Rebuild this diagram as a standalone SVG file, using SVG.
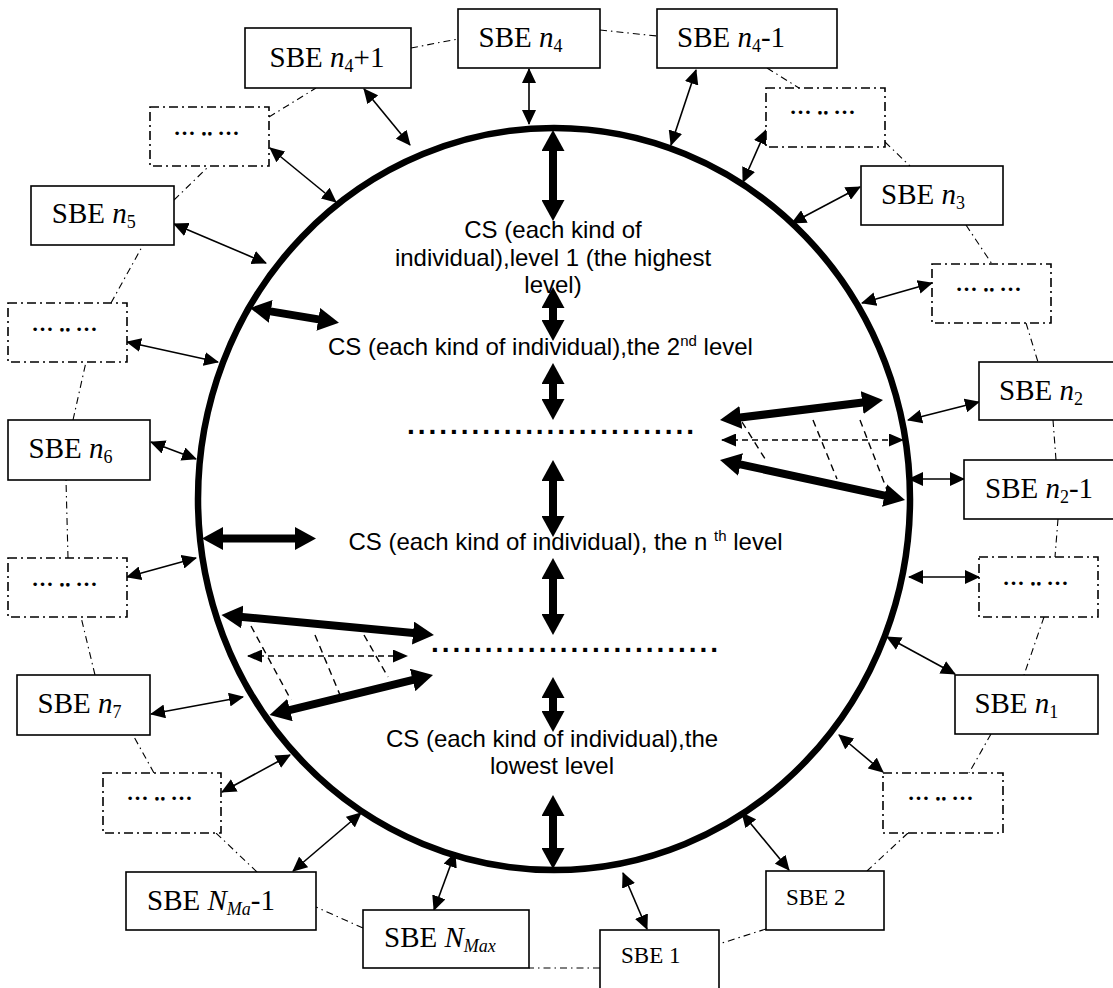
<svg xmlns="http://www.w3.org/2000/svg" width="1113" height="988" viewBox="0 0 1113 988">
<defs>
<style>
.box{fill:#fff;stroke:#000;stroke-width:1.6}
.dbox{fill:#fff;stroke:#000;stroke-width:1.6;stroke-dasharray:9 4 2 4}
.ring{fill:none;stroke:#000;stroke-width:1.1;stroke-dasharray:7 4 1.5 4}
.thin{stroke:#000;stroke-width:1.6;fill:none;marker-start:url(#ah);marker-end:url(#ah)}
.thick{stroke:#000;stroke-width:8;fill:none;marker-start:url(#AH);marker-end:url(#AH)}
.darr{stroke:#000;stroke-width:1.6;fill:none;stroke-dasharray:6 4;marker-start:url(#dh);marker-end:url(#dh)}
.diag{stroke:#000;stroke-width:1.4;fill:none;stroke-dasharray:7 5}
.sbe{font-family:"Liberation Serif","Times New Roman",serif;font-size:29px;fill:#000}
.sbes{font-family:"Liberation Serif","Times New Roman",serif;font-size:23px;fill:#000}
.sub{font-size:18px}
.dots{font-family:"Liberation Serif","Times New Roman",serif;font-size:22px;font-weight:bold;letter-spacing:5px;text-anchor:middle;fill:#000}
.cs{font-family:"Liberation Sans",Arial,sans-serif;font-size:24px;fill:#000}
.line{font-family:"Liberation Sans",Arial,sans-serif;font-size:28px;font-weight:bold;fill:#000}
</style>
<marker id="ah" viewBox="0 0 15 14" refX="14" refY="7" markerWidth="15" markerHeight="14" markerUnits="userSpaceOnUse" orient="auto-start-reverse"><path d="M0,0 L15,7 L0,14 z" fill="#000"/></marker>
<marker id="AH" viewBox="0 0 21 23" refX="11" refY="11.5" markerWidth="21" markerHeight="23" markerUnits="userSpaceOnUse" orient="auto-start-reverse"><path d="M0,0 L21,11.5 L0,23 z" fill="#000"/></marker>
<marker id="dh" viewBox="0 0 15 13" refX="14" refY="6.5" markerWidth="15" markerHeight="13" markerUnits="userSpaceOnUse" orient="auto-start-reverse"><path d="M0,0 L15,6.5 L0,13 z" fill="#000"/></marker>
</defs>
<rect width="1113" height="988" fill="#fff"/>

<g id="cs-circle">
<ellipse cx="554" cy="499" rx="356" ry="371" fill="none" stroke="#000" stroke-width="6.5"/>
</g>

<g id="connectors">
<g id="ring-links">
<line class="ring" x1="411" y1="48" x2="458" y2="39"/>
<line class="ring" x1="600" y1="30" x2="657" y2="36"/>
<line class="ring" x1="767" y1="68" x2="799" y2="88"/>
<line class="ring" x1="885" y1="142" x2="910" y2="166"/>
<line class="ring" x1="966" y1="225" x2="992" y2="264"/>
<line class="ring" x1="1026" y1="323" x2="1038" y2="362"/>
<line class="ring" x1="1053" y1="420" x2="1056" y2="460"/>
<line class="ring" x1="1058" y1="519" x2="1055" y2="557"/>
<line class="ring" x1="1044" y1="617" x2="1024" y2="675"/>
<line class="ring" x1="991" y1="734" x2="969" y2="773"/>
<line class="ring" x1="908" y1="833" x2="867" y2="871"/>
<line class="ring" x1="766" y1="929" x2="719" y2="944"/>
<line class="ring" x1="600" y1="968" x2="529" y2="968"/>
<line class="ring" x1="363" y1="928" x2="316" y2="907"/>
<line class="ring" x1="257" y1="872" x2="216" y2="833"/>
<line class="ring" x1="154" y1="773" x2="133" y2="735"/>
<line class="ring" x1="95" y1="675" x2="81" y2="617"/>
<line class="ring" x1="68" y1="558" x2="66" y2="480"/>
<line class="ring" x1="73" y1="420" x2="86" y2="362"/>
<line class="ring" x1="111" y1="303" x2="143" y2="245"/>
<line class="ring" x1="174" y1="200" x2="209" y2="166"/>
<line class="ring" x1="269" y1="117" x2="316" y2="88"/>
</g>
<g id="box-links">
<line class="thin" x1="529" y1="69" x2="529" y2="124"/>
<line class="thin" x1="696" y1="70" x2="671" y2="145"/>
<line class="thin" x1="766" y1="130" x2="743" y2="182"/>
<line class="thin" x1="860" y1="187" x2="792" y2="223"/>
<line class="thin" x1="932" y1="283" x2="862" y2="303"/>
<line class="thin" x1="979" y1="402" x2="908" y2="420"/>
<line class="thin" x1="964" y1="479" x2="909" y2="479"/>
<line class="thin" x1="979" y1="577" x2="909" y2="577"/>
<line class="thin" x1="955" y1="674" x2="887" y2="637"/>
<line class="thin" x1="883" y1="772" x2="839" y2="735"/>
<line class="thin" x1="789" y1="870" x2="742" y2="813"/>
<line class="thin" x1="647" y1="929" x2="623" y2="873"/>
<line class="thin" x1="434" y1="910" x2="455" y2="853"/>
<line class="thin" x1="293" y1="871" x2="361" y2="813"/>
<line class="thin" x1="222" y1="792" x2="290" y2="755"/>
<line class="thin" x1="151" y1="714" x2="243" y2="697"/>
<line class="thin" x1="127" y1="577" x2="196" y2="558"/>
<line class="thin" x1="151" y1="442" x2="196" y2="459"/>
<line class="thin" x1="127" y1="342" x2="218" y2="362"/>
<line class="thin" x1="174" y1="224" x2="266" y2="263"/>
<line class="thin" x1="270" y1="148" x2="336" y2="202"/>
<line class="thin" x1="364" y1="89" x2="410" y2="145"/>
</g>
<g id="level-links">
<line class="thick" x1="553" y1="140" x2="553" y2="211"/>
<line class="thick" x1="553" y1="297" x2="553" y2="331"/>
<line class="thick" x1="553" y1="373" x2="553" y2="410"/>
<line class="thick" x1="553" y1="470" x2="553" y2="527"/>
<line class="thick" x1="553" y1="568" x2="553" y2="625"/>
<line class="thick" x1="553" y1="687" x2="553" y2="722"/>
<line class="thick" x1="553" y1="805" x2="553" y2="859"/>
<line class="thick" x1="259.9" y1="309.6" x2="329.1" y2="321.1"/>
<line class="thick" x1="212" y1="538.5" x2="306" y2="538.5"/>
<line class="thick" x1="231.4" y1="615.9" x2="424" y2="634.1"/>
<line class="thick" x1="279.3" y1="712.6" x2="423.3" y2="677.4"/>
<line class="thick" x1="729.9" y1="418.8" x2="873.1" y2="401.2"/>
<line class="thick" x1="729.8" y1="462.1" x2="895.2" y2="497.9"/>
<line class="darr" x1="722" y1="440" x2="903" y2="440"/>
<line class="darr" x1="248" y1="656" x2="407" y2="656"/>
<line class="diag" x1="742" y1="422" x2="767" y2="462"/>
<line class="diag" x1="813" y1="420" x2="837" y2="479"/>
<line class="diag" x1="860" y1="420" x2="887" y2="490"/>
<line class="diag" x1="251" y1="626" x2="291" y2="700"/>
<line class="diag" x1="315" y1="635" x2="340" y2="695"/>
<line class="diag" x1="364" y1="635" x2="388" y2="677"/>
</g>
</g>

<g id="cs-level-1">
<text class="cs" x="553" y="238" text-anchor="middle">CS (each kind of</text>
<text class="cs" x="553" y="266" text-anchor="middle">individual),level 1 (the highest</text>
<text class="cs" x="553" y="293" text-anchor="middle">level)</text>
</g>
<g id="cs-level-2">
<text class="cs" x="328" y="355">CS (each kind of individual),the 2<tspan font-size="15" dy="-9">nd</tspan><tspan dy="9"> level</tspan></text>
</g>
<g id="dots-upper">
<text class="line" x="407" y="434" textLength="287" lengthAdjust="spacing">...........................</text>
</g>
<g id="cs-level-n">
<text class="cs" x="348.5" y="550">CS (each kind of individual), the n <tspan font-size="15" dy="-9">th</tspan><tspan dy="9"> level</tspan></text>
</g>
<g id="dots-lower">
<text class="line" x="431" y="652" textLength="287" lengthAdjust="spacing">...........................</text>
</g>
<g id="cs-lowest">
<text class="cs" x="552" y="747" text-anchor="middle">CS (each kind of individual),the</text>
<text class="cs" x="552" y="774" text-anchor="middle">lowest level</text>
</g>

<g id="sbe-n4"><rect class="box" x="458" y="9" width="142" height="59"/><text class="sbe" x="478.6" y="47">SBE <tspan font-style="italic">n</tspan><tspan class="sub" dy="5">4</tspan></text></g>
<g id="sbe-n4-minus-1"><rect class="box" x="657" y="9" width="180" height="59"/><text class="sbe" x="677" y="47">SBE <tspan font-style="italic">n</tspan><tspan class="sub" dy="5">4</tspan><tspan dy="-5">-1</tspan></text></g>
<g id="sbe-n4-plus-1"><rect class="box" x="245" y="28" width="166" height="60"/><text class="sbe" x="269.6" y="67">SBE <tspan font-style="italic">n</tspan><tspan class="sub" dy="5">4</tspan><tspan dy="-5">+1</tspan></text></g>
<g id="gap-1"><rect class="dbox" x="150" y="107" width="119" height="59"/><text class="dots" x="209" y="135">…‥…</text></g>
<g id="gap-2"><rect class="dbox" x="766" y="88" width="119" height="59"/><text class="dots" x="825" y="114">…‥…</text></g>
<g id="sbe-n3"><rect class="box" x="861" y="166" width="142" height="59"/><text class="sbe" x="881" y="204">SBE <tspan font-style="italic">n</tspan><tspan class="sub" dy="5">3</tspan></text></g>
<g id="gap-3"><rect class="dbox" x="932" y="264" width="119" height="59"/><text class="dots" x="991" y="291">…‥…</text></g>
<g id="sbe-n5"><rect class="box" x="31" y="186" width="143" height="59"/><text class="sbe" x="51.8" y="223">SBE <tspan font-style="italic">n</tspan><tspan class="sub" dy="5">5</tspan></text></g>
<g id="gap-4"><rect class="dbox" x="8" y="303" width="119" height="59"/><text class="dots" x="67" y="331">…‥…</text></g>
<g id="sbe-n2"><rect class="box" x="979" y="362" width="140" height="58"/><text class="sbe" x="999" y="400">SBE <tspan font-style="italic">n</tspan><tspan class="sub" dy="5">2</tspan></text></g>
<g id="sbe-n2-minus-1"><rect class="box" x="964" y="460" width="155" height="59"/><text class="sbe" x="985" y="498">SBE <tspan font-style="italic">n</tspan><tspan class="sub" dy="5">2</tspan><tspan dy="-5">-1</tspan></text></g>
<g id="sbe-n6"><rect class="box" x="8" y="420" width="142" height="60"/><text class="sbe" x="28.6" y="458">SBE <tspan font-style="italic">n</tspan><tspan class="sub" dy="5">6</tspan></text></g>
<g id="gap-5"><rect class="dbox" x="8" y="558" width="119" height="59"/><text class="dots" x="67" y="586">…‥…</text></g>
<g id="gap-6"><rect class="dbox" x="979" y="557" width="119" height="60"/><text class="dots" x="1038" y="585">…‥…</text></g>
<g id="sbe-n1"><rect class="box" x="955" y="675" width="143" height="59"/><text class="sbe" x="974.4" y="713">SBE <tspan font-style="italic">n</tspan><tspan class="sub" dy="5">1</tspan></text></g>
<g id="sbe-n7"><rect class="box" x="17" y="675" width="133" height="60"/><text class="sbe" x="37.5" y="713">SBE <tspan font-style="italic">n</tspan><tspan class="sub" dy="5">7</tspan></text></g>
<g id="gap-7"><rect class="dbox" x="103" y="773" width="118" height="60"/><text class="dots" x="162" y="800">…‥…</text></g>
<g id="gap-8"><rect class="dbox" x="883" y="773" width="120" height="60"/><text class="dots" x="943" y="800">…‥…</text></g>
<g id="sbe-nma-minus-1"><rect class="box" x="126" y="872" width="190" height="58"/><text class="sbe" x="147" y="910">SBE <tspan font-style="italic">N</tspan><tspan class="sub" font-style="italic" dy="5">Ma</tspan><tspan dy="-5">-1</tspan></text></g>
<g id="sbe-nmax"><rect class="box" x="363" y="910" width="166" height="58"/><text class="sbe" x="384" y="947">SBE <tspan font-style="italic">N</tspan><tspan class="sub" font-style="italic" dy="5">Max</tspan></text></g>
<g id="sbe-2"><rect class="box" x="766" y="871" width="118" height="59"/><text class="sbes" x="786" y="905">SBE 2</text></g>
<g id="sbe-1"><rect class="box" x="600" y="930" width="119" height="62"/><text class="sbes" x="621" y="963">SBE 1</text></g>
</svg>
